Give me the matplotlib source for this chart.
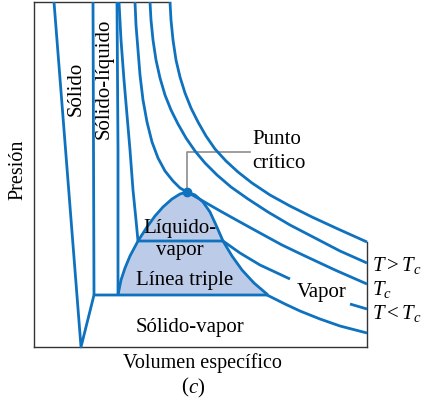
import matplotlib
matplotlib.use('Agg')
import matplotlib.pyplot as plt

plt.rcParams['font.family'] = ['Liberation Serif', 'DejaVu Serif']
plt.rcParams['mathtext.fontset'] = 'custom'
plt.rcParams['mathtext.rm'] = 'Liberation Serif'
plt.rcParams['mathtext.it'] = 'Liberation Serif:italic'

# P-v diagram (schematic), v = specific volume, P = pressure (arbitrary units)
outer_v = [136, 137, 139, 142, 146, 151, 157, 164, 172, 181, 192, 204, 218, 236, 256, 278, 304, 333]
outer_P = [345, 327, 307, 287, 270, 254, 239, 225, 211, 198, 186, 175, 164, 152, 141, 130, 118, 105]

hot_v = [116, 117, 119, 122, 126, 131, 137, 144, 152, 161, 171, 183, 197, 214, 234, 256, 281, 306, 333]
hot_P = [345, 327, 307, 287, 269, 252, 237, 223, 209, 196, 184, 172, 160, 148, 135, 122, 109, 96, 84]

crit_v = [101, 102, 104, 106, 109, 113, 118, 124, 131, 139, 146, 153,
          162, 174, 188, 206, 226, 248, 271, 301, 333]
crit_P = [345, 322, 297, 272, 247, 225, 205, 189, 176, 166, 159, 155,
          150, 143, 135, 125, 114, 102, 91, 77, 63]

cold_v = [85, 87, 90, 93, 96, 99, 102, 104, 189, 206, 226, 256]
cold_P = [345, 307, 267, 232, 197, 157, 127, 106, 106, 94, 82, 68]
cold_end_v = [316, 333]
cold_end_P = [43, 38]

subl_v = [233, 251, 266, 286, 306, 333]
subl_P = [52, 43, 36, 28, 21, 14]

solid_v = [20, 47, 60, 234]
solid_P = [345, 0, 52, 52]

sl_v = [59, 60]
sl_P = [345, 52]

liq_v = [83, 84, 84]
liq_P = [345, 197, 52]

dome_v = [84, 87, 91, 96, 104, 113, 121, 129, 138, 146, 153,
          161, 169, 176, 182, 189, 198, 208, 220, 234]
dome_P = [52, 67, 79, 91, 106, 120, 131, 140, 148, 153, 155,
          152, 145, 135, 122, 106, 91, 77, 64, 52]

cp_v, cp_P = 153, 155
leader_v = [153, 153, 216]
leader_P = [155, 195, 195]

blue = '#0f72bf'
fill = '#bccbe8'
lw = 2.0

fig = plt.figure(figsize=(4.42, 4.11), dpi=100)
ax = fig.add_axes([34 / 442, 64 / 411, 333 / 442, 345 / 411])
ax.set_xlim(0, 333)
ax.set_ylim(0, 345)
ax.set_xticks([])
ax.set_yticks([])
for s in ['top', 'right']:
    ax.spines[s].set_visible(False)
for s in ['left', 'bottom']:
    ax.spines[s].set_color('#333333')
    ax.spines[s].set_linewidth(1.0)

# partial frame
ax.plot([0, outer_v[0]], [345, 345], color='#333333', lw=1.0, clip_on=False)
ax.plot([333, 333], [0, outer_P[-1]], color='#333333', lw=1.0, clip_on=False)

ax.fill(dome_v, dome_P, color=fill, lw=0, zorder=1)

kw = dict(color=blue, lw=lw, clip_on=False, solid_capstyle='butt',
          solid_joinstyle='round', zorder=3)
ax.plot(outer_v, outer_P, **kw)
ax.plot(hot_v, hot_P, **kw)
ax.plot(crit_v, crit_P, **kw)
ax.plot(cold_v, cold_P, **kw)
ax.plot(cold_end_v, cold_end_P, **kw)
ax.plot(subl_v, subl_P, **kw)
ax.plot(solid_v, solid_P, **kw)
ax.plot(sl_v, sl_P, **kw)
ax.plot(liq_v, liq_P, **kw)
ax.plot(dome_v, dome_P, **kw)

ax.plot(leader_v, leader_P, color='#8c8c8c', lw=1.2, zorder=2)
ax.plot(cp_v, cp_P, 'o', color=blue, ms=6, zorder=4)

fs = 15
ax.text(42, 258, 'Sólido', rotation=90, ha='center', va='center', fontsize=fs)
ax.text(70, 268, 'Sólido-líquido', rotation=90, ha='center', va='center', fontsize=fs)
ax.text(146, 118, 'Líquido-', ha='center', va='center', fontsize=fs)
ax.text(146, 97, 'vapor', ha='center', va='center', fontsize=fs)
ax.text(151, 67, 'Línea triple', ha='center', va='center', fontsize=fs)
ax.text(156, 20, 'Sólido-vapor', ha='center', va='center', fontsize=fs)
ax.text(288, 54, 'Vapor', ha='center', va='center', fontsize=fs)
ax.text(218, 207, 'Punto', ha='left', va='center', fontsize=fs)
ax.text(218, 184, 'crítico', ha='left', va='center', fontsize=fs)

ax.text(338, 82, r'$T > T_c$', ha='left', va='center', fontsize=fs, clip_on=False)
ax.text(338, 58, r'$T_c$', ha='left', va='center', fontsize=fs, clip_on=False)
ax.text(338, 34, r'$T < T_c$', ha='left', va='center', fontsize=fs, clip_on=False)

ax.text(-16, 177, 'Presión', rotation=90, ha='center', va='center', fontsize=14.5, clip_on=False)
ax.text(168, -16, 'Volumen específico', ha='center', va='center', fontsize=14.5, clip_on=False)
ax.text(154, -41, '(', ha='right', va='center', fontsize=fs, clip_on=False)
ax.text(154, -41, r'$c$)', ha='left', va='center', fontsize=fs, clip_on=False)

fig.savefig('out.png', dpi=100)
